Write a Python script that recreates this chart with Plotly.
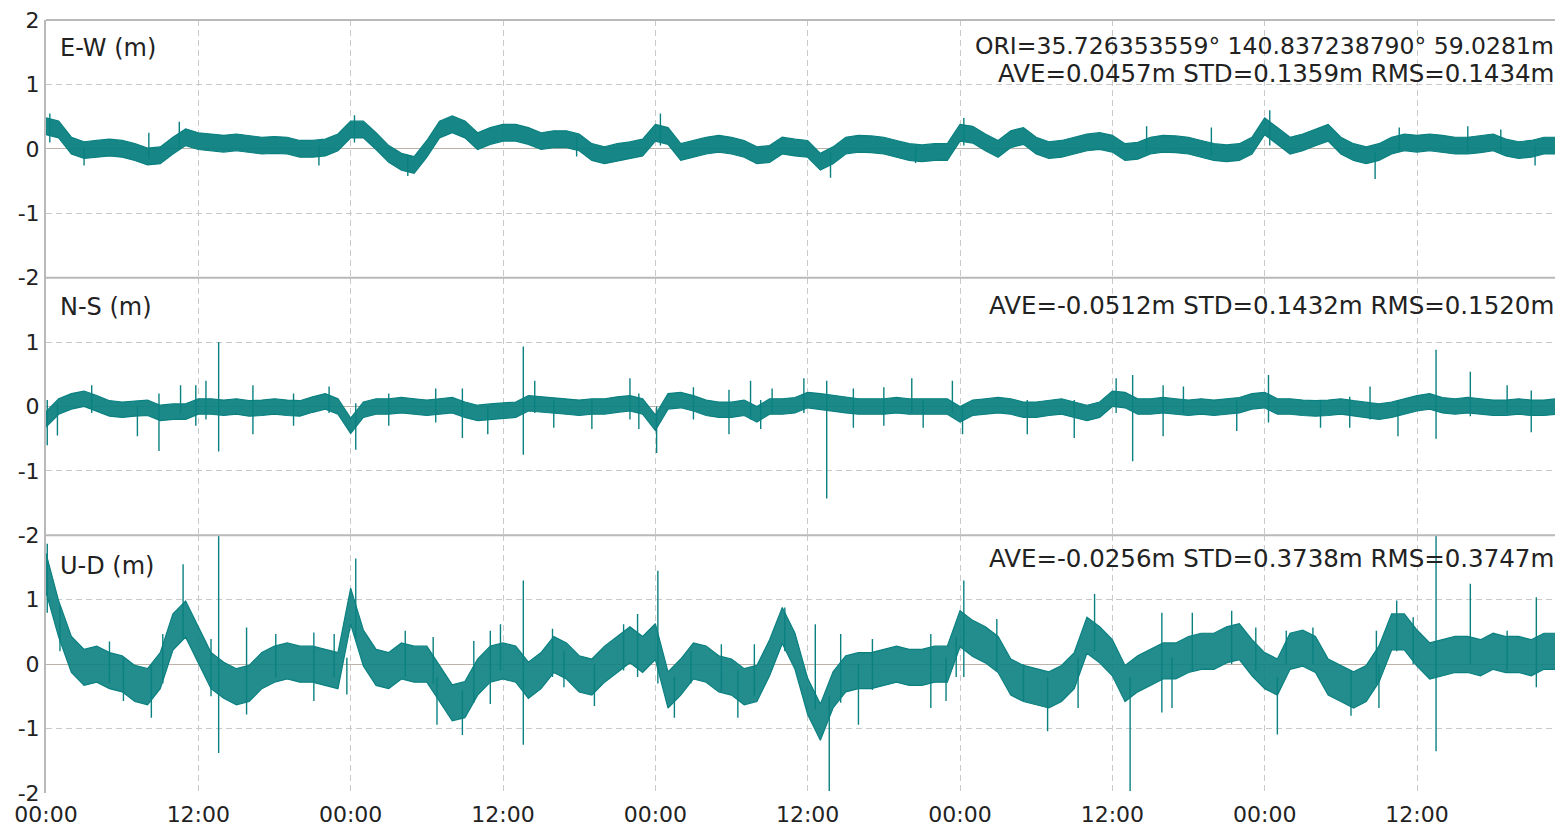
import plotly.graph_objects as go
from plotly.subplots import make_subplots

# ---------------- data (hours from start, 1-hour steps, 0..120) ----------------
hours = list(range(0, 121))

ew_hi = [0.48,0.43,0.18,0.11,0.13,0.15,0.13,0.08,0.01,0.03,
         0.18,0.31,0.25,0.23,0.21,0.23,0.21,0.18,0.19,0.18,
         0.13,0.13,0.15,0.23,0.43,0.43,0.25,0.05,-0.07,-0.12,
         0.13,0.43,0.51,0.43,0.25,0.33,0.38,0.38,0.33,0.25,
         0.28,0.28,0.23,0.08,0.03,0.08,0.11,0.15,0.38,0.33,
         0.08,0.13,0.18,0.21,0.18,0.13,0.03,0.05,0.18,0.15,
         0.13,-0.07,0.03,0.18,0.21,0.20,0.18,0.13,0.08,0.06,
         0.08,0.08,0.38,0.35,0.23,0.13,0.28,0.33,0.18,0.11,
         0.13,0.18,0.23,0.25,0.21,0.08,0.10,0.18,0.21,0.20,
         0.18,0.13,0.08,0.06,0.08,0.18,0.48,0.33,0.18,0.23,
         0.31,0.38,0.18,0.08,0.03,0.08,0.18,0.23,0.21,0.23,
         0.21,0.18,0.18,0.20,0.23,0.15,0.11,0.13,0.18,0.18,0.18]
ew_lo = [0.22,0.17,-0.08,-0.15,-0.13,-0.11,-0.13,-0.18,-0.25,-0.23,
         -0.08,0.05,-0.01,-0.03,-0.05,-0.03,-0.05,-0.08,-0.07,-0.08,
         -0.13,-0.13,-0.11,-0.03,0.17,0.17,-0.01,-0.21,-0.33,-0.38,
         -0.13,0.17,0.25,0.17,-0.01,0.07,0.12,0.12,0.07,-0.01,
         0.02,0.02,-0.03,-0.18,-0.23,-0.18,-0.15,-0.11,0.12,0.07,
         -0.18,-0.13,-0.08,-0.05,-0.08,-0.13,-0.23,-0.21,-0.08,-0.11,
         -0.13,-0.33,-0.23,-0.08,-0.05,-0.06,-0.08,-0.13,-0.18,-0.20,
         -0.18,-0.18,0.12,0.09,-0.03,-0.13,0.02,0.07,-0.08,-0.15,
         -0.13,-0.08,-0.03,-0.01,-0.05,-0.18,-0.16,-0.08,-0.05,-0.06,
         -0.08,-0.13,-0.18,-0.20,-0.18,-0.08,0.22,0.07,-0.08,-0.03,
         0.05,0.12,-0.08,-0.18,-0.23,-0.18,-0.08,-0.03,-0.05,-0.03,
         -0.05,-0.08,-0.08,-0.06,-0.03,-0.11,-0.15,-0.13,-0.08,-0.08,-0.08]

ns_hi = [-0.08,0.12,0.20,0.24,0.17,0.09,0.07,0.09,0.10,0.02,
         0.04,0.04,0.12,0.12,0.10,0.12,0.09,0.10,0.12,0.10,
         0.09,0.15,0.20,0.12,-0.18,0.07,0.12,0.12,0.14,0.12,
         0.10,0.12,0.14,0.07,0.02,0.04,0.05,0.07,0.17,0.15,
         0.14,0.12,0.10,0.12,0.12,0.15,0.17,0.12,-0.13,0.20,
         0.22,0.17,0.10,0.07,0.07,0.10,0.00,0.12,0.12,0.14,
         0.22,0.20,0.17,0.14,0.12,0.12,0.12,0.14,0.12,0.12,
         0.12,0.12,0.00,0.10,0.12,0.14,0.12,0.07,0.07,0.10,
         0.12,0.07,0.02,0.07,0.24,0.22,0.12,0.12,0.14,0.12,
         0.10,0.12,0.10,0.12,0.14,0.20,0.22,0.12,0.12,0.10,
         0.09,0.10,0.12,0.09,0.07,0.04,0.07,0.12,0.17,0.20,
         0.14,0.12,0.14,0.12,0.10,0.10,0.12,0.10,0.10,0.12,0.12]
ns_lo = [-0.32,-0.12,-0.04,0.00,-0.07,-0.15,-0.17,-0.15,-0.14,-0.22,
         -0.20,-0.20,-0.12,-0.12,-0.14,-0.12,-0.15,-0.14,-0.12,-0.14,
         -0.15,-0.09,-0.04,-0.12,-0.42,-0.17,-0.12,-0.12,-0.10,-0.12,
         -0.14,-0.12,-0.10,-0.17,-0.22,-0.20,-0.19,-0.17,-0.07,-0.09,
         -0.10,-0.12,-0.14,-0.12,-0.12,-0.09,-0.07,-0.12,-0.37,-0.04,
         -0.02,-0.07,-0.14,-0.17,-0.17,-0.14,-0.24,-0.12,-0.12,-0.10,
         -0.02,-0.04,-0.07,-0.10,-0.12,-0.12,-0.12,-0.10,-0.12,-0.12,
         -0.12,-0.12,-0.24,-0.14,-0.12,-0.10,-0.12,-0.17,-0.17,-0.14,
         -0.12,-0.17,-0.22,-0.17,0.00,-0.02,-0.12,-0.12,-0.10,-0.12,
         -0.14,-0.12,-0.14,-0.12,-0.10,-0.04,-0.02,-0.12,-0.12,-0.14,
         -0.15,-0.14,-0.12,-0.15,-0.17,-0.20,-0.17,-0.12,-0.07,-0.04,
         -0.10,-0.12,-0.10,-0.12,-0.14,-0.14,-0.12,-0.14,-0.14,-0.12,-0.12]

ud_hi = [1.72,0.98,0.43,0.23,0.28,0.18,0.13,-0.02,-0.07,0.18,
         0.78,0.98,0.58,0.18,0.03,-0.07,-0.02,0.18,0.28,0.33,
         0.28,0.28,0.23,0.18,1.18,0.53,0.23,0.18,0.33,0.28,
         0.28,-0.02,-0.32,-0.27,0.08,0.28,0.33,0.28,0.03,0.18,
         0.43,0.33,0.13,0.08,0.28,0.43,0.58,0.43,0.63,-0.12,
         0.08,0.33,0.28,0.13,0.08,-0.07,-0.02,0.38,0.88,0.48,
         -0.22,-0.62,-0.12,0.13,0.18,0.18,0.23,0.28,0.23,0.23,
         0.28,0.28,0.83,0.68,0.58,0.43,0.08,-0.02,-0.07,-0.12,
         -0.02,0.18,0.73,0.58,0.38,-0.02,0.13,0.23,0.33,0.33,
         0.43,0.48,0.48,0.58,0.63,0.38,0.18,0.08,0.48,0.53,
         0.43,0.08,-0.02,-0.12,-0.02,0.28,0.78,0.78,0.53,0.33,
         0.38,0.43,0.43,0.38,0.48,0.43,0.43,0.38,0.48,0.48,0.58]
ud_lo = [1.12,0.42,-0.13,-0.33,-0.28,-0.38,-0.43,-0.58,-0.63,-0.38,
         0.22,0.42,0.02,-0.38,-0.53,-0.63,-0.58,-0.38,-0.28,-0.23,
         -0.28,-0.28,-0.33,-0.38,0.62,-0.03,-0.33,-0.38,-0.23,-0.28,
         -0.28,-0.58,-0.88,-0.83,-0.48,-0.28,-0.23,-0.28,-0.53,-0.38,
         -0.13,-0.23,-0.43,-0.48,-0.28,-0.13,0.02,-0.13,0.07,-0.68,
         -0.48,-0.23,-0.28,-0.43,-0.48,-0.63,-0.58,-0.18,0.32,-0.08,
         -0.78,-1.18,-0.68,-0.43,-0.38,-0.38,-0.33,-0.28,-0.33,-0.33,
         -0.28,-0.28,0.27,0.12,0.02,-0.13,-0.48,-0.58,-0.63,-0.68,
         -0.58,-0.38,0.17,0.02,-0.18,-0.58,-0.43,-0.33,-0.23,-0.23,
         -0.13,-0.08,-0.08,0.02,0.07,-0.18,-0.38,-0.48,-0.08,-0.03,
         -0.13,-0.48,-0.58,-0.68,-0.58,-0.28,0.22,0.22,-0.03,-0.23,
         -0.18,-0.13,-0.13,-0.18,-0.08,-0.13,-0.13,-0.18,-0.08,-0.08,0.02]

# isolated outlier needles: (hour, low, high)
ew_spikes = [(0.3, 0.10, 0.55), (3.0, -0.26, 0.0), (8.1, -0.15, 0.25), (10.5, 0.00, 0.42),
             (21.5, -0.26, 0.05), (24.3, 0.10, 0.52), (28.5, -0.42, -0.10), (41.8, -0.12, 0.2),
             (48.4, 0.05, 0.55), (61.8, -0.45, -0.05), (68.5, -0.22, 0.05), (72.3, 0.05, 0.48),
             (86.7, -0.05, 0.35), (91.8, -0.1, 0.33), (96.4, 0.05, 0.60), (104.7, -0.47, -0.05),
             (106.6, -0.05, 0.33), (112.0, -0.05, 0.35), (114.6, -0.05, 0.3), (117.3, -0.26, 0.05)]
ns_spikes = [(0.1, -0.60, 0.10), (0.9, -0.45, 0.05), (3.6, -0.1, 0.33), (7.2, -0.46, 0.0),
             (8.9, -0.69, 0.2), (10.6, -0.1, 0.33), (11.8, -0.3, 0.33), (12.6, -0.2, 0.4),
             (13.6, -0.70, 1.00), (16.3, -0.43, 0.33), (19.5, -0.3, 0.2), (22.3, -0.1, 0.31),
             (24.4, -0.67, 0.05), (27.0, -0.3, 0.2), (30.7, -0.25, 0.28), (32.8, -0.49, 0.28),
             (34.8, -0.43, 0.0), (37.6, -0.75, 0.93), (38.5, -0.1, 0.40), (40.0, -0.33, 0.1),
             (43.0, -0.35, 0.1), (46.0, -0.2, 0.44), (46.7, -0.35, 0.2), (48.1, -0.72, 0.0),
             (51.0, -0.20, 0.30), (53.8, -0.43, 0.26), (55.5, -0.2, 0.40), (56.3, -0.35, 0.1),
             (57.2, -0.1, 0.28), (59.7, -0.1, 0.44), (61.5, -1.43, 0.40), (63.6, -0.33, 0.28),
             (66.0, -0.30, 0.30), (68.2, -0.1, 0.44), (69.1, -0.33, 0.1), (71.4, -0.1, 0.40),
             (72.2, -0.43, 0.0), (77.3, -0.43, 0.1), (81.0, -0.49, 0.1), (84.3, -0.1, 0.44),
             (85.6, -0.85, 0.49), (88.0, -0.46, 0.33), (89.6, -0.1, 0.31), (93.8, -0.38, 0.1),
             (96.3, -0.25, 0.49), (100.4, -0.33, 0.1), (102.7, -0.33, 0.15), (104.3, -0.2, 0.31),
             (106.5, -0.46, 0.1), (109.5, -0.50, 0.88), (112.2, -0.15, 0.54), (115.1, -0.1, 0.33),
             (117.0, -0.40, 0.25), (119.3, -0.43, 0.1)]
ud_spikes = [(0.1, 0.80, 1.87), (1.1, 0.2, 0.9), (5.0, -0.3, 0.35), (6.1, -0.57, 0.1),
             (8.3, -0.83, 0.0), (9.2, -0.3, 0.47), (10.8, 0.40, 1.55), (13.0, -0.5, 0.39),
             (13.6, -1.38, 2.00), (15.8, -0.78, 0.57), (18.1, -0.2, 0.47), (21.1, -0.57, 0.49),
             (22.7, -0.2, 0.47), (23.7, -0.47, 0.1), (24.4, 0.40, 1.64), (28.3, -0.2, 0.52),
             (30.5, -0.3, 0.42), (30.8, -0.94, -0.2), (32.8, -1.10, -0.40), (33.7, -0.6, 0.36),
             (35.0, -0.62, 0.52), (35.8, -0.1, 0.62), (37.6, -1.25, 1.30), (39.9, -0.2, 0.55),
             (40.8, -0.36, 0.2), (43.2, -0.65, 0.0), (45.5, -0.1, 0.62), (46.6, -0.2, 0.78),
             (48.2, -0.30, 1.45), (49.5, -0.83, -0.2), (50.8, -0.3, 0.21), (53.2, -0.42, 0.31),
             (54.5, -0.83, -0.1), (55.8, -0.5, 0.31), (58.2, 0.20, 0.88), (60.6, -0.7, 0.62),
             (61.7, -1.97, -0.50), (62.6, -0.6, 0.47), (64.0, -0.94, 0.0), (65.1, -0.4, 0.39),
             (69.7, -0.68, 0.47), (70.9, -0.57, 0.1), (71.7, -0.2, 0.42), (72.3, -0.20, 1.30),
             (74.9, -0.1, 0.7), (77.0, -0.57, 0.0), (78.9, -1.04, -0.2), (81.3, -0.68, 0.1),
             (82.6, 0.20, 1.09), (85.4, -1.97, -0.20), (87.9, -0.75, 0.80), (88.7, -0.68, 0.1),
             (90.3, -0.1, 0.80), (93.4, 0.0, 0.83), (95.3, -0.1, 0.57), (97.0, -1.09, -0.2),
             (97.7, 0.0, 0.52), (99.8, 0.0, 0.57), (102.8, -0.8, -0.1), (104.8, -0.3, 0.52),
             (105.0, -0.68, 0.0), (106.4, 0.20, 0.99), (107.7, 0.0, 0.73), (109.5, -1.35, 2.00),
             (112.2, 0.00, 1.25), (115.1, -0.1, 0.52), (117.4, -0.36, 1.04), (119.0, 0.0, 0.62)]

x_tickvals = [0, 12, 24, 36, 48, 60, 72, 84, 96, 108]
x_ticktext = ["00:00", "12:00"] * 5

panel_labels = ["E-W (m)", "N-S (m)", "U-D (m)"]
ori_text = "ORI=35.726353559\u00b0 140.837238790\u00b0 59.0281m"
stat_texts = ["AVE=0.0457m STD=0.1359m RMS=0.1434m",
              "AVE=-0.0512m STD=0.1432m RMS=0.1520m",
              "AVE=-0.0256m STD=0.3738m RMS=0.3747m"]

# ---------------- figure ----------------
TEAL = "#0b8080"
FILLS = ["rgba(11,128,128,0.95)", "rgba(11,128,128,0.93)", "rgba(11,128,128,0.9)"]
GRID = "#c9c9c9"
BORDER = "#b9b9b9"
FONT = "DejaVu Sans"
OFF = 8                      # default page body margin of the html page
PAGE_W, PAGE_H = 1563, 830
W, H = PAGE_W - OFF, PAGE_H - OFF
PLOT_L, PLOT_T, PLOT_B = 46, 20, 793      # plot area edges in page pixels
ML, MR, MT, MB = PLOT_L - OFF, 0, PLOT_T - OFF, PAGE_H - PLOT_B

fig = make_subplots(rows=3, cols=1, shared_xaxes=True, vertical_spacing=0)

series = [(ew_hi, ew_lo, ew_spikes), (ns_hi, ns_lo, ns_spikes), (ud_hi, ud_lo, ud_spikes)]
for i, (hi, lo, spikes) in enumerate(series, start=1):
    fig.add_trace(go.Scatter(x=hours + hours[::-1], y=hi + lo[::-1], fill="toself",
                             fillcolor=FILLS[i - 1], mode="lines", line=dict(color=TEAL, width=1.2),
                             hoverinfo="skip", showlegend=False), row=i, col=1)
    sx, sy = [], []
    for h, a, b in spikes:
        sx += [h, h, None]
        sy += [a, b, None]
    fig.add_trace(go.Scatter(x=sx, y=sy, mode="lines", line=dict(color=TEAL, width=1.4),
                             hoverinfo="skip", showlegend=False), row=i, col=1)

tickfont = dict(family=FONT, size=22, color="#222222")
for i in range(1, 4):
    fig.update_xaxes(row=i, col=1, range=[0, 119.5], tickvals=x_tickvals, ticktext=x_ticktext,
                     showgrid=True, gridcolor=GRID, gridwidth=1, griddash="6px,4px",
                     zeroline=False, showline=False, ticks="", tickfont=tickfont,
                     showticklabels=(i == 3), automargin=False, ticklabeloverflow="allow",
                     ticklabelstandoff=6)
    if i == 1:
        yv, yt = [-2, -1, 0, 1, 2], ["-2", "-1", "0", "1", "2"]
    else:
        yv, yt = [-2, -1, 0, 1], ["-2", "-1", "0", "1"]
    fig.update_yaxes(row=i, col=1, range=[-2, 2], tickvals=yv, ticktext=yt,
                     showgrid=True, gridcolor=GRID, gridwidth=1, griddash="6px,4px",
                     zeroline=True, zerolinecolor="#bcb4aa", zerolinewidth=1,
                     showline=True, linecolor=BORDER, linewidth=2,
                     ticks="", tickfont=tickfont, automargin=False, ticklabeloverflow="allow")

pw = PAGE_W - PLOT_L
ph = PLOT_B - PLOT_T


def px(xp):
    return (xp - PLOT_L) / pw


def py(yp):
    return (PLOT_B - yp) / ph


shapes = []
for yb in [1.0, 2 / 3, 1 / 3]:
    shapes.append(dict(type="line", xref="paper", yref="paper", x0=0, x1=1, y0=yb, y1=yb,
                       line=dict(color=BORDER, width=2)))
fig.update_layout(shapes=shapes)

annos = []
label_y = [48, 307, 566]
stat_y = [73, 305, 558]
for k in range(3):
    annos.append(dict(text=panel_labels[k], xref="paper", yref="paper", x=px(58), y=py(label_y[k]),
                      xanchor="left", yanchor="middle", showarrow=False,
                      font=dict(family=FONT, size=24, color="#222222")))
    annos.append(dict(text=stat_texts[k], xref="paper", yref="paper", x=px(1556), y=py(stat_y[k]),
                      xanchor="right", yanchor="middle", showarrow=False,
                      font=dict(family=FONT, size=24.5, color="#222222")))
annos.append(dict(text=ori_text, xref="paper", yref="paper", x=px(1556), y=py(46),
                  xanchor="right", yanchor="middle", showarrow=False,
                  font=dict(family=FONT, size=23.5, color="#222222")))

fig.update_layout(width=W, height=H, margin=dict(l=ML, r=MR, t=MT, b=MB, pad=0),
                  paper_bgcolor="white", plot_bgcolor="white", annotations=annos,
                  showlegend=False)

fig.write_html("out.html")
